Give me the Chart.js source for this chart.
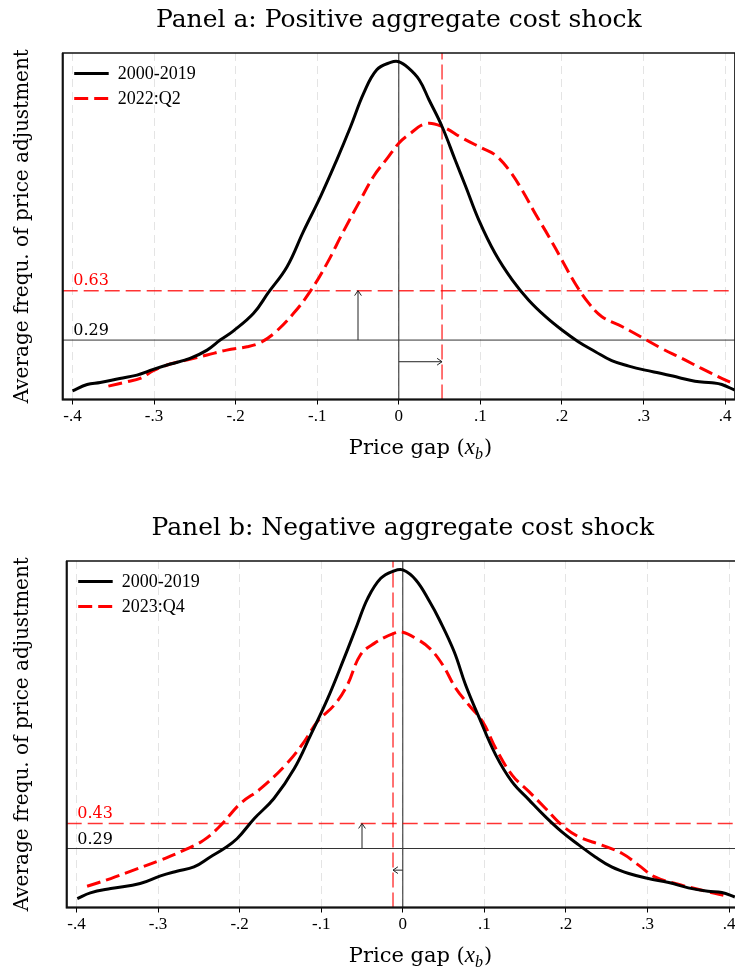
<!DOCTYPE html>
<html>
<head>
<meta charset="utf-8">
<script src="https://cdn.jsdelivr.net/npm/chart.js@4.4.1/dist/chart.umd.min.js"></script>
<style>
  html, body { margin: 0; padding: 0; background: #fff; overflow: hidden; }
  .panel { position: absolute; left: 0; }
  #panelA { top: 0; }
  #panelB { top: 490px; }
</style>
</head>
<body>
<div class="panel" id="panelA"><canvas id="chartA" width="745" height="470"></canvas></div>
<div class="panel" id="panelB"><canvas id="chartB" width="745" height="482"></canvas></div>
<script>
// x axis ticks (price gap)
const xTickValues = [-0.4, -0.3, -0.2, -0.1, 0, 0.1, 0.2, 0.3, 0.4];
const xTickLabels = ['-.4', '-.3', '-.2', '-.1', '0', '.1', '.2', '.3', '.4'];

// Panel a: hazard by price gap, 2000-2019 vs 2022:Q2
const gapA_base = [-0.400, -0.382, -0.366, -0.342, -0.321, -0.301, -0.280, -0.256, -0.235, -0.219, -0.203,
  -0.178, -0.160, -0.137, -0.117, -0.096, -0.076, -0.059, -0.043, -0.027, -0.010, 0.000, 0.012, 0.025,
  0.037, 0.053, 0.069, 0.082, 0.098, 0.118, 0.139, 0.159, 0.180, 0.200, 0.220, 0.241, 0.261, 0.282,
  0.302, 0.322, 0.343, 0.363, 0.384, 0.396, 0.412];
const hazA_base = [-0.059, -0.016, -0.002, 0.026, 0.049, 0.088, 0.125, 0.164, 0.221, 0.290, 0.352,
  0.474, 0.616, 0.795, 1.037, 1.278, 1.531, 1.760, 1.990, 2.151, 2.201, 2.206, 2.162, 2.082,
  1.944, 1.760, 1.531, 1.347, 1.117, 0.887, 0.704, 0.566, 0.451, 0.359, 0.279, 0.210, 0.148, 0.111,
  0.083, 0.060, 0.033, 0.007, -0.004, -0.016, -0.055];
const gapA_shock = [-0.356, -0.333, -0.317, -0.301, -0.280, -0.260, -0.235, -0.211, -0.186, -0.170, -0.153,
  -0.129, -0.108, -0.088, -0.068, -0.047, -0.031, -0.014, 0.000, 0.012, 0.033, 0.053, 0.078, 0.102,
  0.118, 0.135, 0.151, 0.167, 0.184, 0.200, 0.216, 0.233, 0.249, 0.274, 0.298, 0.322, 0.347, 0.371,
  0.392, 0.410];
const hazA_shock = [-0.027, 0.003, 0.026, 0.079, 0.125, 0.152, 0.187, 0.221, 0.244, 0.272, 0.336,
  0.474, 0.630, 0.818, 1.037, 1.255, 1.416, 1.542, 1.645, 1.703, 1.779, 1.760, 1.680, 1.611,
  1.565, 1.462, 1.324, 1.163, 1.002, 0.841, 0.681, 0.543, 0.451, 0.382, 0.308, 0.233, 0.164, 0.095,
  0.037, -0.009];
const avgFreqA = [0.29, 0.63];

// Panel b: hazard by price gap, 2000-2019 vs 2023:Q4
const gapB_base = [-0.399, -0.383, -0.358, -0.322, -0.297, -0.277, -0.256, -0.236, -0.219, -0.203, -0.182,
  -0.158, -0.133, -0.113, -0.092, -0.072, -0.056, -0.043, -0.027, -0.011, 0.000, 0.016, 0.033, 0.045,
  0.063, 0.077, 0.094, 0.114, 0.134, 0.155, 0.175, 0.195, 0.216, 0.236, 0.256, 0.277, 0.301, 0.326,
  0.350, 0.374, 0.391, 0.407];
const hazB_base = [0.010, 0.042, 0.066, 0.094, 0.137, 0.163, 0.187, 0.243, 0.290, 0.346, 0.458,
  0.570, 0.738, 0.925, 1.130, 1.354, 1.541, 1.690, 1.802, 1.843, 1.849, 1.793, 1.671, 1.569,
  1.391, 1.205, 1.018, 0.813, 0.663, 0.561, 0.467, 0.383, 0.309, 0.243, 0.187, 0.150, 0.122, 0.100,
  0.070, 0.051, 0.044, 0.019];
const gapB_shock = [-0.387, -0.358, -0.330, -0.297, -0.268, -0.244, -0.223, -0.199, -0.174, -0.142, -0.121,
  -0.105, -0.084, -0.068, -0.052, -0.035, -0.011, 0.000, 0.016, 0.033, 0.049, 0.065, 0.081, 0.098,
  0.114, 0.134, 0.155, 0.175, 0.195, 0.216, 0.244, 0.269, 0.289, 0.309, 0.334, 0.358, 0.378, 0.393];
const hazB_shock = [0.079, 0.122, 0.169, 0.225, 0.281, 0.337, 0.421, 0.542, 0.626, 0.766, 0.887,
  0.999, 1.093, 1.205, 1.373, 1.438, 1.494, 1.500, 1.466, 1.410, 1.317, 1.186, 1.093, 0.999,
  0.850, 0.701, 0.607, 0.514, 0.421, 0.355, 0.309, 0.262, 0.197, 0.131, 0.094, 0.066, 0.044, 0.029];
const avgFreqB = [0.29, 0.43];

// mean price-gap shift of each shock
const gapShift = [0.053, -0.012];

const SERIF = '"DejaVu Serif", serif';
const TIMES = '"Liberation Serif", "Times New Roman", serif';
const RED = '#ff0000';

function curve(xs, ys) {
  return xs.map((x, i) => ({ x: x, y: ys[i] }));
}

function arrowHead(ctx, x0, y0, x1, y1) {
  const a = Math.atan2(y1 - y0, x1 - x0);
  const len = 6, spread = 0.6;
  ctx.beginPath();
  ctx.moveTo(x1 - len * Math.cos(a - spread), y1 - len * Math.sin(a - spread));
  ctx.lineTo(x1, y1);
  ctx.lineTo(x1 - len * Math.cos(a + spread), y1 - len * Math.sin(a + spread));
  ctx.stroke();
}

function drawXTitle(ctx, cx, baseline) {
  const parts = [
    { t: 'Price gap (', f: '21px ' + SERIF, dy: 0 },
    { t: 'x', f: 'italic 23px ' + TIMES, dy: 0 },
    { t: 'b', f: 'italic 16px ' + TIMES, dy: 5 },
    { t: ')', f: '21px ' + SERIF, dy: 0 }
  ];
  let total = 0;
  parts.forEach(p => { ctx.font = p.f; p.w = ctx.measureText(p.t).width; total += p.w; });
  let x = cx - total / 2;
  ctx.fillStyle = '#000';
  ctx.textAlign = 'left';
  ctx.textBaseline = 'alphabetic';
  parts.forEach(p => { ctx.font = p.f; ctx.fillText(p.t, x, baseline + p.dy); x += p.w + (p.t === 'b' ? 1 : 0); });
}

function buildPanel(canvasId, p) {
  const [avgBase, avgShock] = p.avg;
  const xMin = -0.412, xMax = 0.412;

  const datasets = [
    { label: p.labels[0], data: curve(p.gapBase, p.hazBase), borderColor: '#000', borderWidth: 3,
      tension: 0.4, borderJoinStyle: 'round' },
    { label: p.labels[1], data: curve(p.gapShock, p.hazShock), borderColor: RED, borderWidth: 3,
      borderDash: [14, 6], tension: 0.4, borderJoinStyle: 'round' },
    { data: [{ x: xMin, y: avgBase }, { x: xMax, y: avgBase }], borderColor: '#333', borderWidth: 1 },
    { data: [{ x: xMin, y: avgShock }, { x: xMax, y: avgShock }], borderColor: 'rgba(255,0,0,0.8)',
      borderWidth: 1.4, borderDash: [15, 6] },
    { data: [{ x: 0, y: p.yMin }, { x: 0, y: p.yMax }], borderColor: '#222', borderWidth: 1 },
    { data: [{ x: p.shift, y: p.yMin }, { x: p.shift, y: p.yMax }], borderColor: 'rgba(255,0,0,0.85)',
      borderWidth: 1.3, borderDash: [15, 5] },
    { data: [{ x: -0.05, y: avgBase }, { x: -0.05, y: avgShock }], borderColor: '#222', borderWidth: 1, arrow: true },
    { data: [{ x: 0, y: p.arrowY }, { x: p.shift, y: p.arrowY }], borderColor: '#222', borderWidth: 1, arrow: true }
  ];

  const decorations = {
    id: 'decorations',
    afterDatasetsDraw(chart) {
      const ctx = chart.ctx;
      const area = chart.chartArea;
      const ys = chart.scales.y;

      // arrow heads
      ctx.save();
      chart.data.datasets.forEach((ds, i) => {
        if (!ds.arrow) return;
        const pts = chart.getDatasetMeta(i).data;
        ctx.strokeStyle = ds.borderColor;
        ctx.lineWidth = 1;
        arrowHead(ctx, pts[0].x, pts[0].y, pts[1].x, pts[1].y);
      });
      ctx.restore();

      // frame
      ctx.save();
      ctx.strokeStyle = '#111';
      ctx.lineWidth = 1.5;
      ctx.strokeRect(area.left, area.top, area.right - area.left, area.bottom - area.top);
      ctx.lineWidth = 2;
      ctx.beginPath();
      ctx.moveTo(area.left, area.top);
      ctx.lineTo(area.left, area.bottom);
      ctx.lineTo(area.right, area.bottom);
      ctx.stroke();
      ctx.restore();

      // average frequency labels
      ctx.save();
      ctx.font = '16px ' + SERIF;
      ctx.textAlign = 'left';
      ctx.textBaseline = 'alphabetic';
      ctx.fillStyle = '#000';
      ctx.fillText(avgBase.toFixed(2), area.left + 10.5, ys.getPixelForValue(avgBase) - 5);
      ctx.fillStyle = RED;
      ctx.fillText(avgShock.toFixed(2), area.left + 10.5, ys.getPixelForValue(avgShock) - 6);
      ctx.restore();

      // legend
      ctx.save();
      [0, 1].forEach(i => {
        const ds = chart.data.datasets[i];
        const y = area.top + 20.5 + i * 25;
        ctx.strokeStyle = ds.borderColor;
        ctx.lineWidth = ds.borderWidth;
        ctx.setLineDash(ds.borderDash || []);
        ctx.beginPath();
        ctx.moveTo(area.left + 11.5, y);
        ctx.lineTo(area.left + 46, y);
        ctx.stroke();
        ctx.setLineDash([]);
        ctx.fillStyle = '#000';
        ctx.font = '18px ' + TIMES;
        ctx.textAlign = 'left';
        ctx.textBaseline = 'middle';
        ctx.fillText(ds.label, area.left + 55, y + 1);
      });
      ctx.restore();

      // titles
      ctx.save();
      ctx.fillStyle = '#000';
      ctx.font = '25px ' + SERIF;
      ctx.textAlign = 'center';
      ctx.textBaseline = 'alphabetic';
      ctx.fillText(p.title, (area.left + area.right) / 2, area.top - 26);
      ctx.restore();
      drawXTitle(ctx, 420, area.bottom + 54.5);
    }
  };

  return new Chart(document.getElementById(canvasId), {
    type: 'line',
    data: { datasets: datasets },
    options: {
      responsive: false,
      animation: false,
      events: [],
      layout: { padding: { top: p.padTop, right: p.padRight, left: 0, bottom: 0 } },
      elements: { point: { radius: 0 }, line: { tension: 0, fill: false } },
      plugins: { legend: { display: false }, tooltip: { enabled: false } },
      scales: {
        x: {
          type: 'linear',
          min: xMin,
          max: xMax,
          afterBuildTicks: s => { s.ticks = xTickValues.map(v => ({ value: v })); },
          afterFit: s => { s.height = p.xAxisHeight; },
          ticks: {
            callback: (v, i) => xTickLabels[i],
            font: { family: TIMES, size: 17 },
            color: '#000',
            padding: 2,
            maxRotation: 0,
            autoSkip: false
          },
          grid: {
            color: '#e4e4e4',
            lineWidth: 1,
            drawTicks: true,
            tickLength: 5,
            tickColor: '#000',
            tickWidth: 1
          },
          border: { display: false, dash: [8, 5] }
        },
        y: {
          type: 'linear',
          min: p.yMin,
          max: p.yMax,
          afterFit: s => { s.width = p.yAxisWidth; },
          ticks: { display: false },
          grid: { display: false },
          border: { display: false },
          title: {
            display: true,
            text: 'Average frequ. of price adjustment',
            font: { family: SERIF, size: 20 },
            color: '#000',
            padding: { top: 11, bottom: 0 }
          }
        }
      }
    },
    plugins: [decorations]
  });
}

buildPanel('chartA', {
  title: 'Panel a: Positive aggregate cost shock',
  labels: ['2000-2019', '2022:Q2'],
  gapBase: gapA_base, hazBase: hazA_base,
  gapShock: gapA_shock, hazShock: hazA_shock,
  avg: avgFreqA,
  shift: gapShift[0],
  arrowY: 0.141,
  yMin: -0.119, yMax: 2.266,
  padTop: 53, padRight: 10.1, yAxisWidth: 62.7, xAxisHeight: 70.5
});

buildPanel('chartB', {
  title: 'Panel b: Negative aggregate cost shock',
  labels: ['2000-2019', '2023:Q4'],
  gapBase: gapB_base, hazBase: hazB_base,
  gapShock: gapB_shock, hazShock: hazB_shock,
  avg: avgFreqB,
  shift: gapShift[1],
  arrowY: 0.169,
  yMin: -0.040, yMax: 1.899,
  padTop: 71, padRight: 6.1, yAxisWidth: 66.7, xAxisHeight: 64.5
});
</script>
</body>
</html>
